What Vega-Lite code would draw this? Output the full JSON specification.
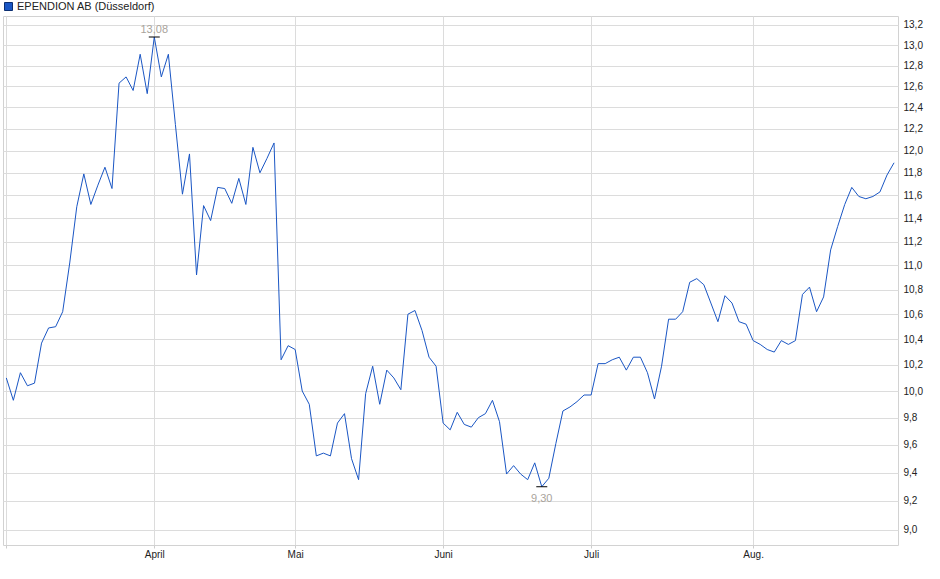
{
  "$schema": "https://vega.github.io/schema/vega-lite/v6.json",
  "width": 895,
  "height": 529,
  "autosize": "none",
  "padding": {"left": 3, "top": 16, "right": 42, "bottom": 34},
  "background": "white",
  "config": {
    "font": "Liberation Sans",
    "view": {"stroke": "#d2d2d2", "strokeWidth": 1}
  },
  "data": {
    "values": [
      {"t": 0, "p": 10.10}, {"t": 1, "p": 9.93}, {"t": 2, "p": 10.14}, {"t": 3, "p": 10.04},
      {"t": 4, "p": 10.06}, {"t": 5, "p": 10.37}, {"t": 6, "p": 10.49}, {"t": 7, "p": 10.50},
      {"t": 8, "p": 10.62}, {"t": 9, "p": 11.02}, {"t": 10, "p": 11.50}, {"t": 11, "p": 11.79},
      {"t": 12, "p": 11.52}, {"t": 13, "p": 11.69}, {"t": 14, "p": 11.85}, {"t": 15, "p": 11.66},
      {"t": 16, "p": 12.63}, {"t": 17, "p": 12.69}, {"t": 18, "p": 12.56}, {"t": 19, "p": 12.91},
      {"t": 20, "p": 12.53}, {"t": 21, "p": 13.08}, {"t": 22, "p": 12.69}, {"t": 23, "p": 12.91},
      {"t": 24, "p": 12.24}, {"t": 25, "p": 11.61}, {"t": 26, "p": 11.97}, {"t": 27, "p": 10.92},
      {"t": 28, "p": 11.51}, {"t": 29, "p": 11.38}, {"t": 30, "p": 11.67}, {"t": 31, "p": 11.66},
      {"t": 32, "p": 11.53}, {"t": 33, "p": 11.75}, {"t": 34, "p": 11.52}, {"t": 35, "p": 12.03},
      {"t": 36, "p": 11.80}, {"t": 37, "p": 11.93}, {"t": 38, "p": 12.07}, {"t": 39, "p": 10.24},
      {"t": 40, "p": 10.35}, {"t": 41, "p": 10.32}, {"t": 42, "p": 10.00}, {"t": 43, "p": 9.90},
      {"t": 44, "p": 9.52}, {"t": 45, "p": 9.54}, {"t": 46, "p": 9.52}, {"t": 47, "p": 9.76},
      {"t": 48, "p": 9.83}, {"t": 49, "p": 9.50}, {"t": 50, "p": 9.35}, {"t": 51, "p": 9.98},
      {"t": 52, "p": 10.19}, {"t": 53, "p": 9.90}, {"t": 54, "p": 10.16}, {"t": 55, "p": 10.10},
      {"t": 56, "p": 10.01}, {"t": 57, "p": 10.60}, {"t": 58, "p": 10.63}, {"t": 59, "p": 10.47},
      {"t": 60, "p": 10.26}, {"t": 61, "p": 10.19}, {"t": 62, "p": 9.76}, {"t": 63, "p": 9.71},
      {"t": 64, "p": 9.84}, {"t": 65, "p": 9.75}, {"t": 66, "p": 9.73}, {"t": 67, "p": 9.80},
      {"t": 68, "p": 9.83}, {"t": 69, "p": 9.93}, {"t": 70, "p": 9.77}, {"t": 71, "p": 9.39},
      {"t": 72, "p": 9.45}, {"t": 73, "p": 9.39}, {"t": 74, "p": 9.35}, {"t": 75, "p": 9.47},
      {"t": 76, "p": 9.30}, {"t": 77, "p": 9.36}, {"t": 78, "p": 9.61}, {"t": 79, "p": 9.85},
      {"t": 80, "p": 9.88}, {"t": 81, "p": 9.92}, {"t": 82, "p": 9.97}, {"t": 83, "p": 9.97},
      {"t": 84, "p": 10.21}, {"t": 85, "p": 10.21}, {"t": 86, "p": 10.24}, {"t": 87, "p": 10.26},
      {"t": 88, "p": 10.16}, {"t": 89, "p": 10.26}, {"t": 90, "p": 10.26}, {"t": 91, "p": 10.14},
      {"t": 92, "p": 9.94}, {"t": 93, "p": 10.19}, {"t": 94, "p": 10.56}, {"t": 95, "p": 10.56},
      {"t": 96, "p": 10.62}, {"t": 97, "p": 10.86}, {"t": 98, "p": 10.89}, {"t": 99, "p": 10.84},
      {"t": 100, "p": 10.69}, {"t": 101, "p": 10.54}, {"t": 102, "p": 10.75}, {"t": 103, "p": 10.69},
      {"t": 104, "p": 10.54}, {"t": 105, "p": 10.52}, {"t": 106, "p": 10.39}, {"t": 107, "p": 10.36},
      {"t": 108, "p": 10.32}, {"t": 109, "p": 10.30}, {"t": 110, "p": 10.39}, {"t": 111, "p": 10.36},
      {"t": 112, "p": 10.39}, {"t": 113, "p": 10.76}, {"t": 114, "p": 10.82}, {"t": 115, "p": 10.62},
      {"t": 116, "p": 10.74}, {"t": 117, "p": 11.13}, {"t": 118, "p": 11.33}, {"t": 119, "p": 11.52},
      {"t": 120, "p": 11.67}, {"t": 121, "p": 11.59}, {"t": 122, "p": 11.57}, {"t": 123, "p": 11.59},
      {"t": 124, "p": 11.63}, {"t": 125, "p": 11.78}, {"t": 126, "p": 11.89}
    ]
  },
  "encoding": {
    "x": {
      "field": "t",
      "type": "quantitative",
      "scale": {"domain": [-0.47, 126.56], "nice": false, "zero": false},
      "axis": {
        "title": null,
        "values": [0, 21, 41, 62, 83, 106],
        "labelExpr": "datum.value == 21 ? 'April' : datum.value == 41 ? 'Mai' : datum.value == 62 ? 'Juni' : datum.value == 83 ? 'Juli' : datum.value == 106 ? 'Aug.' : ''",
        "grid": true,
        "gridColor": "#dcdcdc",
        "domain": false,
        "ticks": true,
        "tickSize": 3,
        "tickColor": "#cccccc",
        "labelPadding": 1,
        "labelFontSize": 10,
        "labelColor": "#222222"
      }
    },
    "y": {
      "field": "p",
      "type": "quantitative",
      "scale": {"type": "log", "domain": [8.898, 13.29], "nice": false, "zero": false},
      "axis": {
        "orient": "right",
        "title": null,
        "values": [9.0, 9.2, 9.4, 9.6, 9.8, 10.0, 10.2, 10.4, 10.6, 10.8, 11.0, 11.2, 11.4, 11.6, 11.8, 12.0, 12.2, 12.4, 12.6, 12.8, 13.0, 13.2],
        "labelExpr": "replace(format(datum.value, '.1f'), '.', ',')",
        "grid": true,
        "gridColor": "#dcdcdc",
        "domain": false,
        "ticks": false,
        "labelPadding": 5,
        "labelFontSize": 10,
        "labelColor": "#222222"
      }
    }
  },
  "layer": [
    {
      "mark": {"type": "line", "color": "#1a56c4", "strokeWidth": 1, "interpolate": "linear"}
    },
    {
      "transform": [{"filter": "false"}],
      "mark": {"type": "square", "filled": true},
      "encoding": {
        "color": {
          "datum": "EPENDION AB (Düsseldorf)",
          "type": "nominal",
          "scale": {"range": ["#1a56c4"]},
          "legend": {
            "title": null,
            "orient": "none",
            "legendX": 0,
            "legendY": -15,
            "padding": 0,
            "symbolType": "square",
            "symbolSize": 64,
            "symbolStrokeColor": "#0c2e70",
            "symbolStrokeWidth": 1,
            "symbolOpacity": 1,
            "labelOffset": 3,
            "labelFontSize": 11,
            "labelColor": "#222222"
          }
        }
      }
    },
    {
      "transform": [
        {"joinaggregate": [{"op": "max", "field": "p", "as": "pmax"}, {"op": "min", "field": "p", "as": "pmin"}]},
        {"filter": "datum.p == datum.pmax || datum.p == datum.pmin"}
      ],
      "mark": {"type": "tick", "orient": "horizontal", "size": 11, "thickness": 1, "color": "#000000", "opacity": 1}
    },
    {
      "transform": [
        {"joinaggregate": [{"op": "max", "field": "p", "as": "pmax"}]},
        {"filter": "datum.p == datum.pmax"},
        {"calculate": "replace(format(datum.p, '.2f'), '.', ',')", "as": "lbl"}
      ],
      "mark": {"type": "text", "baseline": "bottom", "dy": -2, "fontSize": 11, "color": "#a9a49c"},
      "encoding": {"text": {"field": "lbl"}}
    },
    {
      "transform": [
        {"joinaggregate": [{"op": "min", "field": "p", "as": "pmin"}]},
        {"filter": "datum.p == datum.pmin"},
        {"calculate": "replace(format(datum.p, '.2f'), '.', ',')", "as": "lbl"}
      ],
      "mark": {"type": "text", "baseline": "top", "dy": 6, "fontSize": 11, "color": "#a9a49c"},
      "encoding": {"text": {"field": "lbl"}}
    }
  ]
}
